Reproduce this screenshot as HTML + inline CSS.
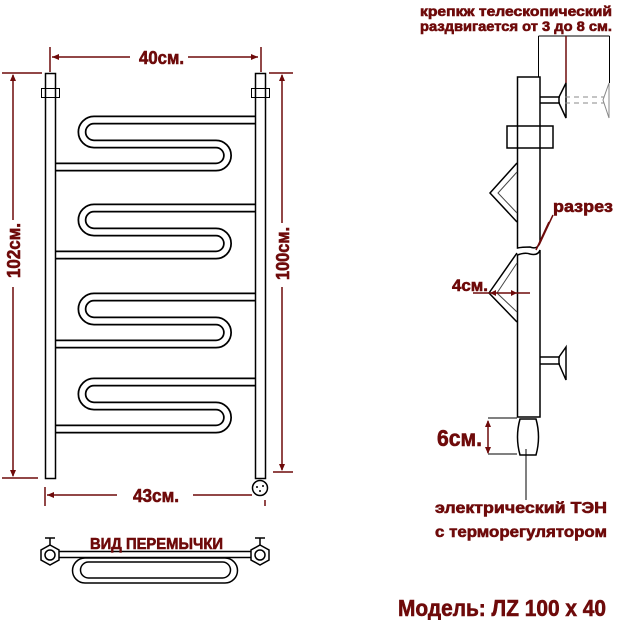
<!DOCTYPE html>
<html><head><meta charset="utf-8"><style>
html,body{margin:0;padding:0;background:#fff}
svg{display:block}
.t{font-family:"Liberation Sans Narrow","Liberation Sans","DejaVu Sans",sans-serif;font-weight:bold;fill:#6e0a0a;stroke:#6e0a0a;stroke-width:0.6}
</style></head><body>
<svg width="620" height="620" viewBox="0 0 620 620" xmlns="http://www.w3.org/2000/svg">
<defs>
<g id="serp">
<path d="M258,120 H94 A12,12 0 0 0 94,144 H216 A11.5,11.5 0 0 1 216,167 H52" fill="none" stroke="#000" stroke-width="9"/>
<path d="M258,120 H94 A12,12 0 0 0 94,144 H216 A11.5,11.5 0 0 1 216,167 H52" fill="none" stroke="#fff" stroke-width="5.5"/>
</g>
</defs>
<use href="#serp"/>
<use href="#serp" y="88"/>
<use href="#serp" y="177"/>
<use href="#serp" y="262"/>
<rect x="45.5" y="73.5" width="10" height="405" fill="#fff" stroke="#000" stroke-width="1.5"/>
<rect x="255.5" y="73.5" width="10" height="405" fill="#fff" stroke="#000" stroke-width="1.5"/>
<rect x="41.5" y="88.5" width="18" height="9" fill="none" stroke="#000"/>
<rect x="251.5" y="88.5" width="18" height="9" fill="none" stroke="#000"/>
<circle cx="260" cy="488" r="7.5" fill="#fff" stroke="#000" stroke-width="1.5"/>
<circle cx="257" cy="487" r="1" fill="#000"/><circle cx="263" cy="486" r="1" fill="#000"/><circle cx="260" cy="491" r="1" fill="#000"/>
<g stroke="#6e0a0a" stroke-width="1.5" fill="none">
<line x1="50" y1="47" x2="50" y2="72"/><line x1="261" y1="47" x2="261" y2="72"/>
<line x1="52" y1="57" x2="130" y2="57"/><line x1="188" y1="57" x2="258" y2="57"/>
<line x1="2" y1="73" x2="42" y2="73"/><line x1="2" y1="478" x2="38" y2="478"/>
<line x1="13" y1="75" x2="13" y2="220"/><line x1="13" y1="287" x2="13" y2="476"/>
<line x1="269" y1="73" x2="293" y2="73"/><line x1="273" y1="472" x2="293" y2="472"/>
<line x1="282" y1="75" x2="282" y2="223"/><line x1="282" y1="287" x2="282" y2="470"/>
<line x1="45" y1="487" x2="45" y2="506"/><line x1="47" y1="495" x2="117" y2="495"/><line x1="193" y1="495" x2="252" y2="495"/>
<line x1="265" y1="500" x2="265" y2="506"/>
</g>
<g fill="#6e0a0a">
<path d="M52,57 l7,-3 v6z"/><path d="M258,57 l-7,-3 v6z"/>
<path d="M13,74 l-3,7 h6z"/><path d="M13,477 l-3,-7 h6z"/>
<path d="M282,74 l-3,7 h6z"/><path d="M282,471 l-3,-7 h6z"/>
<path d="M47,495 l7,-3 v6z"/>
</g>
<text class="t" x="139" y="64" font-size="18" textLength="45" lengthAdjust="spacingAndGlyphs">40см.</text>
<text class="t" x="133" y="502" font-size="18" textLength="46" lengthAdjust="spacingAndGlyphs">43см.</text>
<text class="t" font-size="18" transform="translate(20,278) rotate(-90)" textLength="55" lengthAdjust="spacingAndGlyphs">102см.</text>
<text class="t" font-size="18" transform="translate(289,280) rotate(-90)" textLength="53" lengthAdjust="spacingAndGlyphs">100см.</text>
<rect x="72.5" y="558" width="165" height="25" rx="12.5" fill="none" stroke="#000" stroke-width="1.5"/>
<rect x="80.5" y="562" width="150" height="16" rx="8" fill="none" stroke="#000" stroke-width="1.5"/>
<rect x="50" y="551.5" width="210" height="6" fill="#fff" stroke="#000" stroke-width="1.5"/>
<g fill="#fff" stroke="#000" stroke-width="1.5">
<polygon points="50,545 59,550 59,560 50,565 41,560 41,550"/><circle cx="50" cy="555" r="5"/>
<polygon points="260,545 269,550 269,560 260,565 251,560 251,550"/><circle cx="260" cy="555" r="5"/>
</g>
<g stroke="#000" stroke-width="1.5"><line x1="50" y1="538" x2="50" y2="545"/><line x1="45" y1="538" x2="55" y2="538"/>
<line x1="260" y1="538" x2="260" y2="545"/><line x1="255" y1="538" x2="265" y2="538"/></g>
<text class="t" x="90" y="549" font-size="16" textLength="133" lengthAdjust="spacingAndGlyphs">ВИД ПЕРЕМЫЧКИ</text>
<text class="t" x="420" y="16" font-size="14" textLength="192" lengthAdjust="spacingAndGlyphs">крепкж телескопический</text>
<text class="t" x="420" y="31" font-size="14" textLength="192" lengthAdjust="spacingAndGlyphs">раздвигается от 3 до 8 см.</text>
<g fill="none" stroke="#000" stroke-width="1">
<line x1="538.5" y1="36" x2="609.5" y2="36"/><line x1="538.5" y1="36" x2="538.5" y2="77"/><line x1="609.5" y1="36" x2="609.5" y2="83"/>
</g>
<line x1="566" y1="36" x2="566" y2="83" stroke="#6e0a0a" stroke-width="1.5"/>
<g fill="none" stroke="#000" stroke-width="1.5">
<path d="M517.5,77 H540 V242 Q538,250 530,247 Q522,247 517.5,248 Z" fill="#fff"/>
<path d="M517.5,255 Q525,252 530,254 Q538,256 540,250 V417 H517.5 Z" fill="#fff"/>
<rect x="507" y="126" width="46" height="22" fill="#fff"/>
<line x1="517.5" y1="126" x2="517.5" y2="148"/><line x1="540" y1="126" x2="540" y2="148"/>
<line x1="540" y1="97" x2="560" y2="97"/><line x1="540" y1="103" x2="560" y2="103"/>
<path d="M566,83 L559,97 V103 L566,118 Z"/>
<path d="M517,163 L490,193 L517,222"/><path d="M517,172 L498,193 L517,213" stroke="#444" stroke-width="1"/>
<path d="M517,253 L489,293 L517,322"/><path d="M517,263 L497,293 L517,312" stroke="#444" stroke-width="1"/>
<line x1="540" y1="357" x2="560" y2="357"/><line x1="540" y1="364" x2="560" y2="364"/>
<path d="M566,347 L559,357 V364 L566,380 Z"/>
<path d="M520,419 H536 Q541,437 536,455 H520 Q515,437 520,419 Z"/>
<line x1="526" y1="449" x2="526" y2="500" stroke="#000" stroke-width="1"/>
<line x1="488" y1="418" x2="517" y2="418" stroke-width="1"/><line x1="488" y1="454" x2="517" y2="454" stroke-width="1"/>
</g>
<g fill="none" stroke="#888" stroke-width="1" stroke-dasharray="5,4">
<line x1="565" y1="97" x2="604" y2="97"/><line x1="565" y1="103" x2="604" y2="103"/>
</g>
<path d="M609,83 L603,100 L609,118 Z" fill="none" stroke="#888" stroke-width="1"/>
<g stroke="#6e0a0a" stroke-width="1.5" fill="none">
<line x1="473" y1="293" x2="530" y2="293"/>
<line x1="488" y1="421" x2="488" y2="453"/>
<line x1="553" y1="215" x2="539" y2="245"/><line x1="549" y1="222" x2="536" y2="250"/>
</g>
<g fill="#6e0a0a"><path d="M517,293 l-6,-3 v6z"/><path d="M490,293 l6,-3 v6z"/>
<path d="M488,420 l-3,7 h6z"/><path d="M488,454 l-3,-7 h6z"/></g>
<text class="t" x="553" y="212" font-size="17" textLength="60" lengthAdjust="spacingAndGlyphs">разрез</text>
<text class="t" x="452" y="291" font-size="17" textLength="36" lengthAdjust="spacingAndGlyphs">4см.</text>
<text class="t" x="437" y="446" font-size="23" textLength="45" lengthAdjust="spacingAndGlyphs">6см.</text>
<text class="t" x="435" y="513" font-size="16" textLength="172" lengthAdjust="spacingAndGlyphs">электрический   ТЭН</text>
<text class="t" x="435" y="537" font-size="16" textLength="172" lengthAdjust="spacingAndGlyphs">с терморегулятором</text>
<text class="t" x="398" y="616" font-size="23" textLength="208" lengthAdjust="spacingAndGlyphs">Модель: ЛZ 100 x 40</text>
</svg>
</body></html>
